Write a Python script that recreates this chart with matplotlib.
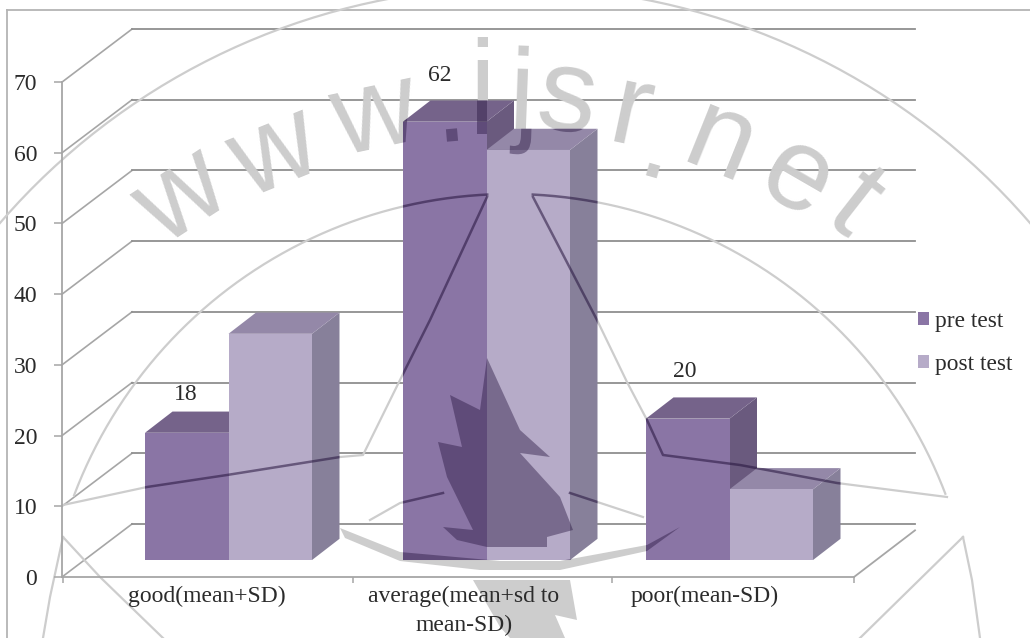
### Imports
import numpy as np
from matplotlib import pyplot as plt
from matplotlib.patches import Polygon, PathPatch
from matplotlib.path import Path
from matplotlib.textpath import TextPath
from matplotlib.font_manager import FontProperties
from matplotlib.transforms import Affine2D

# ----------------------------------------------------------------------------

### Data
categories = ['good(mean+SD)', 'average(mean+sd to\nmean-SD)', 'poor(mean-SD)']
pre_test = [18, 62, 20]
post_test = [32, 58, 10]
y_ticks = [0, 10, 20, 30, 40, 50, 60, 70]

### Layout, x in pixels across the figure and y in chart units
px_per_unit = 7.07
y_zero_px = 577.
bar_left = [145, 403, 646]
bar_width = 83.5
label_x = [207, 464, 705]
x_edges = [63, 353, 612, 854]
value_label_x = [186, 440, 685]
value_label_lift = [2.4, 3.6, 3.6]
wall_dx, wall_dy = 70, 7.5
floor_lift = 2.4
bar_dx, bar_dy = 27.5, 3.0

pre_colors = ['#8a75a5', '#75638a', '#6a5a7e']
post_colors = ['#b6abc8', '#9488a8', '#87809a']
line_color = '#a6a6a6'
grid_color = '#8f8f8f'
text_color = '#2b2b2b'
serif = 'Liberation Serif'

def vy(py):
    """ Convert a figure row to chart units.
    """
    return (y_zero_px - np.asarray(py, dtype=float)) / px_per_unit
#def

def xy(points):
    pts = np.array(points, dtype=float)
    return pts[:, 0], vy(pts[:, 1])
#def

def arc(cx, cy, radius, start, stop):
    """ Points along a circle, angles in degrees, in figure rows.
    """
    angle = np.radians(np.linspace(start, stop, 200))
    return np.column_stack([cx + radius * np.cos(angle), cy - radius * np.sin(angle)])
#def

# ----------------------------------------------------------------------------

fig = plt.figure(figsize=(10.30, 6.38), dpi=100)
ax = fig.add_axes([0, 0, 1, 1])
ax.set_xlim(0, 1030)
ax.set_ylim(vy(638), vy(0))
ax.patch.set_facecolor('white')
ax.set_axisbelow(False)

for name in ['top', 'right']:
    ax.spines[name].set_visible(False)
ax.spines['left'].set_position(('data', 62))
ax.spines['left'].set_bounds(0, 70)
ax.spines['bottom'].set_position(('data', 0))
ax.spines['bottom'].set_bounds(62, 854)
for name in ['left', 'bottom']:
    ax.spines[name].set_color(line_color)
    ax.spines[name].set_linewidth(1.3)

ax.set_yticks(y_ticks)
ax.tick_params(axis='y', length=5.8, width=1.1, color=line_color, pad=12,
               labelsize=17, labelcolor=text_color)
ax.set_xticks(x_edges)
ax.set_xticklabels([])
ax.set_xticks(label_x, labels=categories, minor=True)
ax.tick_params(axis='x', which='major', length=4.5, width=1.1, color=line_color)
ax.tick_params(axis='x', which='minor', length=0, pad=6.5, labelsize=17,
               labelcolor=text_color)
for lab in ax.get_xticklabels(minor=True) + ax.get_yticklabels():
    lab.set_fontfamily(serif)
    lab.set_linespacing(1.45)

# Outer frame
ax.plot([7, 7], [vy(10), vy(638)], color='#b4b4b4', lw=1.3, zorder=1)
ax.plot([7, 1030], [vy(10), vy(10)], color='#b4b4b4', lw=1.3, zorder=1)

# Side wall, back wall and floor
for val in y_ticks:
    ax.plot([62, 62 + wall_dx], [val, val + wall_dy], color=line_color, lw=1.2, zorder=1)
    ax.plot([62 + wall_dx, 915], [val + wall_dy, val + wall_dy], color=grid_color,
            lw=1.3, zorder=1)
ax.plot([854, 915], [0, 6.6], color=line_color, lw=1.3, zorder=1)

# ----------------------------------------------------------------------------

def box(left, value, colors, z):
    """ Draw the side and top faces of a bar and return its outline.
    """
    base = floor_lift
    right = left + bar_width
    top = base + value
    ax.add_patch(Polygon([(right, base), (right + bar_dx, base + bar_dy),
                          (right + bar_dx, top + bar_dy), (right, top)],
                         fc=colors[2], ec='none', zorder=z))
    ax.add_patch(Polygon([(left, top), (right, top), (right + bar_dx, top + bar_dy),
                          (left + bar_dx, top + bar_dy)],
                         fc=colors[1], ec='none', zorder=z))
    return [(left, base), (right, base), (right + bar_dx, base + bar_dy),
            (right + bar_dx, top + bar_dy), (left + bar_dx, top + bar_dy), (left, top)]
#def

pre_handle = None
post_handle = None
outlines = []
for i in range(len(categories)):
    outlines.append(box(bar_left[i], pre_test[i], pre_colors, 3))
    bars = ax.bar(bar_left[i], pre_test[i], bar_width, bottom=floor_lift, align='edge',
                  color=pre_colors[0], zorder=3)
    pre_handle = pre_handle or bars
    outlines.append(box(bar_left[i] + bar_width, post_test[i], post_colors, 3))
    bars = ax.bar(bar_left[i] + bar_width, post_test[i], bar_width, bottom=floor_lift,
                  align='edge', color=post_colors[0], zorder=3)
    post_handle = post_handle or bars
###i

for i in range(len(pre_test)):
    ax.text(value_label_x[i], pre_test[i] + floor_lift + bar_dy + value_label_lift[i],
            str(pre_test[i]), ha='center', va='center', fontsize=17, family=serif,
            color=text_color, zorder=6)
###i

leg = ax.legend([pre_handle, post_handle], ['pre test', 'post test'], frameon=False,
                loc='upper left', bbox_to_anchor=(906 / 1030, 1 - 299 / 638), borderpad=0,
                handlelength=0.48, handleheight=0.48, handletextpad=0.28, labelspacing=0.95,
                prop={'family': serif, 'size': 16.8}, labelcolor=text_color)

# ----------------------------------------------------------------------------

# Site stamp behind and over the chart
outer_ring = arc(515, 667, 680, 20, 160)
inner_left = arc(510, 660, 466, 159.3, 92.8)
inner_right = arc(510, 660, 466, 87.2, 20.9)
fold_left = [(63, 505), (147, 487), (227, 475), (340, 457), (363, 455), (400, 380),
             (430, 320), (487, 197)]
fold_right = [(533, 197), (597, 320), (627, 382), (647, 420), (663, 455), (740, 465),
              (837, 483), (947, 497)]
ring_top_left = [(370, 520), (400, 503), (443, 493)]
ring_top_right = [(570, 493), (643, 517)]
corner_lines = [[(63, 537), (100, 577), (163, 638)], [(63, 537), (50, 597), (43, 638)],
                [(963, 537), (860, 638)], [(963, 537), (972, 580), (980, 638)]]
stamp_lines = [outer_ring, inner_left, inner_right, fold_left, fold_right, ring_top_left,
               ring_top_right] + corner_lines
tree = [(487, 358), (480, 410), (450, 395), (462, 447), (438, 442), (447, 477), (473, 530),
        (443, 527), (457, 540), (487, 547), (520, 547), (547, 547), (547, 537), (573, 530),
        (560, 497), (520, 453), (550, 457), (520, 430)]
crescent = [(340, 528), (400, 552), (500, 561), (560, 561), (647, 545), (680, 527), (647, 551),
            (560, 570), (480, 570), (400, 561), (345, 538)]
trunk = [(473, 580), (570, 580), (577, 620), (555, 615), (565, 638), (510, 638), (500, 627)]

letters = [('w', 182, 198, 33), ('w', 275, 155, 22), ('w', 375, 117, 12), ('.', 452, 135, 5),
           ('i', 482, 92, 0), ('j', 522, 100, -2), ('s', 567, 100, -8), ('r', 630, 115, -12),
           ('.', 658, 150, -16), ('n', 720, 145, -22), ('e', 797, 180, -30), ('t', 853, 205, -38)]

stamp_gray = '#cdcdcd'
for line in stamp_lines:
    ax.plot(*xy(line), color=stamp_gray, lw=1.6, zorder=2)
###line
for shape in [crescent, trunk]:
    ax.add_patch(Polygon(np.column_stack(xy(shape)), fc=stamp_gray, ec='none', zorder=2))
###shape
for ch, x, y, rot in letters:
    ax.text(x, vy(y), ch, fontsize=84, family='Liberation Sans', color=stamp_gray, ha='center',
            va='center', rotation=rot, rotation_mode='anchor', zorder=2)
###ch

# Same stamp again, dark, only where it crosses the bars
clip = Path.make_compound_path(*[Path(np.array(o + [o[0]]), closed=True) for o in outlines])
shade = '#24123c'
for line in stamp_lines:
    art, = ax.plot(*xy(line), color=shade, alpha=0.55, lw=1.8, zorder=4)
    art.set_clip_path(clip, ax.transData)
###line
for shape in [tree, crescent]:
    art = ax.add_patch(Polygon(np.column_stack(xy(shape)), fc=shade, ec='none', alpha=0.42, zorder=4))
    art.set_clip_path(clip, ax.transData)
###shape

font = FontProperties(family='Liberation Sans')
for ch, x, y, rot in letters:
    glyph = TextPath((0, 0), ch, size=116.7, prop=font)
    box_ext = glyph.get_extents()
    place = (Affine2D().translate(-box_ext.x0 - box_ext.width / 2, -box_ext.y0 - box_ext.height / 2)
             .rotate_deg(rot).translate(x, 638 - y))
    art = PathPatch(glyph, fc=shade, ec='none', alpha=0.42, transform=place, zorder=4)
    ax.add_patch(art)
    art.set_transform(place)
    art.set_clip_path(clip, ax.transData)
###ch

plt.savefig('out.png', dpi=100)
